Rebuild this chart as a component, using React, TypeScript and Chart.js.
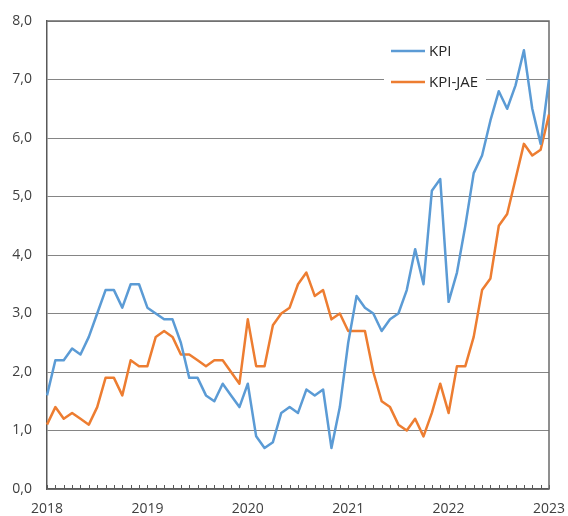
import React, { useEffect, useRef } from "react";
import { Chart, registerables } from "chart.js";

Chart.register(...registerables);

const years = [2018, 2019, 2020, 2021, 2022, 2023];
const months = years.flatMap((y) => (y === 2023 ? [`${y}-01`] : Array.from({ length: 12 }, (_, m) => `${y}-${String(m + 1).padStart(2, "0")}`)));

const kpi = [
  1.6, 2.2, 2.2, 2.4, 2.3, 2.6, 3.0, 3.4, 3.4, 3.1, 3.5, 3.5,
  3.1, 3.0, 2.9, 2.9, 2.5, 1.9, 1.9, 1.6, 1.5, 1.8, 1.6, 1.4,
  1.8, 0.9, 0.7, 0.8, 1.3, 1.4, 1.3, 1.7, 1.6, 1.7, 0.7, 1.4,
  2.5, 3.3, 3.1, 3.0, 2.7, 2.9, 3.0, 3.4, 4.1, 3.5, 5.1, 5.3,
  3.2, 3.7, 4.5, 5.4, 5.7, 6.3, 6.8, 6.5, 6.9, 7.5, 6.5, 5.9,
  7.0,
];

const kpiJae = [
  1.1, 1.4, 1.2, 1.3, 1.2, 1.1, 1.4, 1.9, 1.9, 1.6, 2.2, 2.1,
  2.1, 2.6, 2.7, 2.6, 2.3, 2.3, 2.2, 2.1, 2.2, 2.2, 2.0, 1.8,
  2.9, 2.1, 2.1, 2.8, 3.0, 3.1, 3.5, 3.7, 3.3, 3.4, 2.9, 3.0,
  2.7, 2.7, 2.7, 2.0, 1.5, 1.4, 1.1, 1.0, 1.2, 0.9, 1.3, 1.8,
  1.3, 2.1, 2.1, 2.6, 3.4, 3.6, 4.5, 4.7, 5.3, 5.9, 5.7, 5.8,
  6.4,
];

const seriesNames = ["KPI", "KPI-JAE"];
const seriesColors = ["#5B9BD5", "#ED7D31"];
const yTicks = [0, 1, 2, 3, 4, 5, 6, 7, 8];

const FONT = "'Open Sans', 'Noto Sans', sans-serif";

const framePlugin = {
  id: "frame",
  beforeDatasetsDraw(chart: any) {
    const { ctx, chartArea } = chart;
    const xs = chart.scales.x;
    ctx.save();
    // inward month ticks
    ctx.strokeStyle = "#595959";
    ctx.lineWidth = 1;
    ctx.beginPath();
    for (let i = 0; i < months.length; i++) {
      const px = Math.round(xs.getPixelForValue(i)) + 0.5;
      ctx.moveTo(px, chartArea.bottom);
      ctx.lineTo(px, chartArea.bottom - 4);
    }
    ctx.stroke();
    // right + top border
    ctx.strokeStyle = "#6b6b6b";
    ctx.lineWidth = 1.5;
    ctx.beginPath();
    ctx.moveTo(chartArea.left, chartArea.top);
    ctx.lineTo(chartArea.right, chartArea.top);
    ctx.lineTo(chartArea.right, chartArea.bottom);
    ctx.stroke();
    ctx.restore();
  },
  afterDatasetsDraw(chart: any) {
    const { ctx, chartArea } = chart;
    ctx.save();
    const boxLeft = chartArea.right - 165;
    const boxTop = chartArea.top + 12;
    ctx.fillStyle = "#ffffff";
    ctx.fillRect(boxLeft, boxTop, 102, 64);
    seriesNames.forEach((name, i) => {
      const y = boxTop + 18 + i * 31;
      ctx.strokeStyle = seriesColors[i];
      ctx.lineWidth = 2.5;
      ctx.beginPath();
      ctx.moveTo(boxLeft + 7, y);
      ctx.lineTo(boxLeft + 41, y);
      ctx.stroke();
      ctx.fillStyle = "#262626";
      ctx.font = `15px ${FONT}`;
      ctx.textBaseline = "middle";
      ctx.textAlign = "left";
      ctx.fillText(name, boxLeft + 45, y + 1);
    });
    ctx.restore();
  },
};

export default function App() {
  const ref = useRef<HTMLCanvasElement | null>(null);
  useEffect(() => {
    if (!ref.current) return;
    const chart = new Chart(ref.current, {
      type: "line",
      data: {
        labels: months,
        datasets: [
          { label: seriesNames[0], data: kpi, borderColor: seriesColors[0], backgroundColor: seriesColors[0], borderWidth: 2.5, pointRadius: 0, tension: 0, borderJoinStyle: "round" },
          { label: seriesNames[1], data: kpiJae, borderColor: seriesColors[1], backgroundColor: seriesColors[1], borderWidth: 2.5, pointRadius: 0, tension: 0, borderJoinStyle: "round" },
        ],
      },
      options: {
        animation: false,
        responsive: false,
        maintainAspectRatio: false,
        layout: { padding: { left: 0, top: 21, right: 19, bottom: 0 } },
        plugins: { legend: { display: false }, tooltip: { enabled: false } },
        scales: {
          x: {
            type: "category",
            offset: false,
            grid: { display: false, drawTicks: false },
            border: { display: true, color: "#595959", width: 1.5 },
            ticks: {
              autoSkip: false,
              maxRotation: 0,
              padding: 12,
              color: "#404040",
              font: { family: FONT, size: 14 },
              callback: (_v: any, i: number) => (months[i].endsWith("-01") ? months[i].slice(0, 4) : ""),
            },
            afterFit: (s: any) => { s.height = 27; s.paddingLeft = 0; s.paddingRight = 0; },
          },
          y: {
            min: 0,
            max: 8,
            afterBuildTicks: (s: any) => { s.ticks = yTicks.map((v) => ({ value: v })); },
            grid: { color: "#858585", lineWidth: 1, drawTicks: false },
            border: { display: true, color: "#595959", width: 1.5 },
            ticks: {
              padding: 15,
              color: "#404040",
              font: { family: FONT, size: 14 },
              callback: (v: any) => Number(v).toFixed(1).replace(".", ","),
            },
            afterFit: (s: any) => { s.width = 47; s.paddingTop = 0; s.paddingBottom = 0; },
          },
        },
      },
      plugins: [framePlugin],
    });
    return () => chart.destroy();
  }, []);
  return (
    <div style={{ position: "fixed", left: 0, top: 0, width: 568, height: 516, background: "#fff" }}>
      <canvas ref={ref} width={568} height={516} style={{ width: 568, height: 516 }} />
    </div>
  );
}
